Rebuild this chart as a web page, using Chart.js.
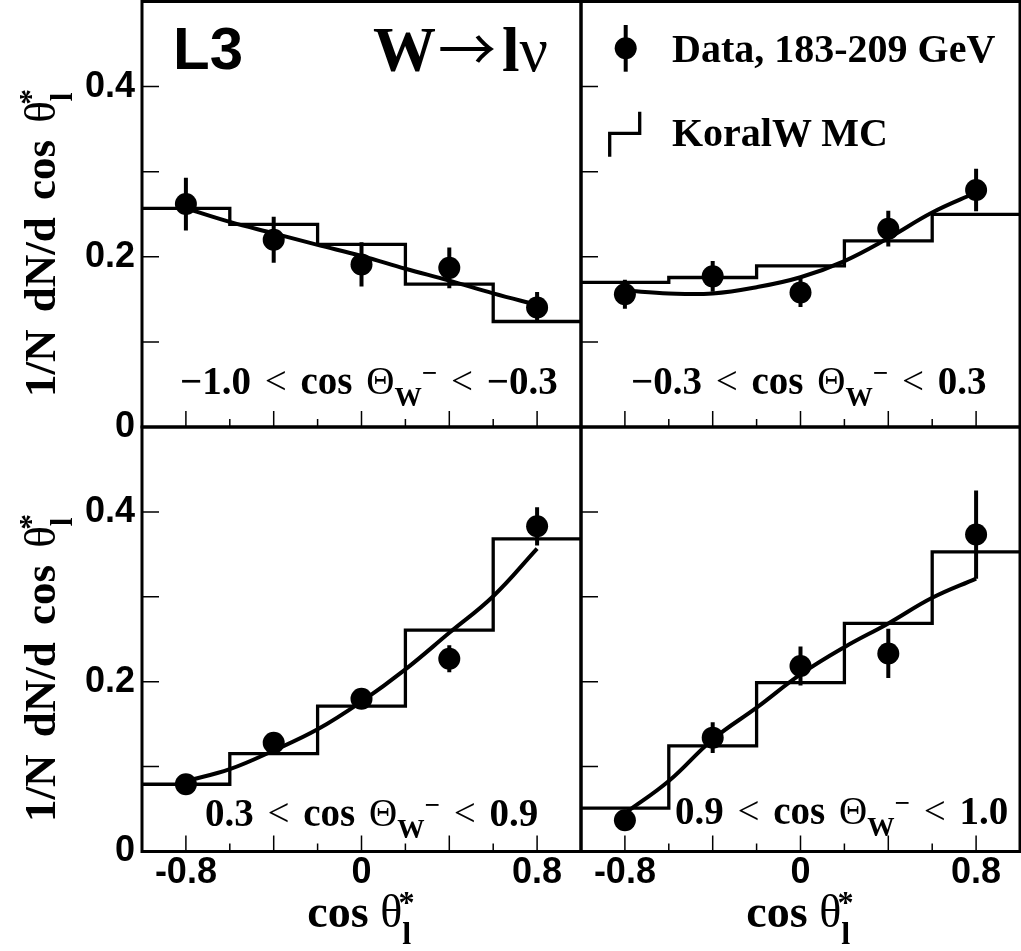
<!DOCTYPE html>
<html lang="en">
<head>
<meta charset="UTF-8">
<title>L3 W to l nu - cos theta* in bins of cos Theta_W</title>
<script src="https://cdn.jsdelivr.net/npm/chart.js@4"></script>
<style>
  html, body { margin: 0; padding: 0; background: #fff; }
  #page { position: relative; width: 1021px; height: 951px; overflow: hidden; }
  #page canvas { position: absolute; left: 0; top: 0; }
  .txt { position: absolute; white-space: nowrap; line-height: 1; color: #000; }
  .serif { font-family: "Liberation Serif", "Times New Roman", serif; font-weight: bold; }
  .sans { font-family: "Liberation Sans", Arial, sans-serif; font-weight: bold; }
  .nb { font-weight: normal; }
  .arrow { font-family: "Noto Sans CJK JP", "DejaVu Sans", sans-serif; font-weight: normal; font-size: 58px; margin: 0 6px 0 2px; }
  .sub { position: relative; top: 0.45em; font-size: 0.7em; }
  .sup { position: relative; top: -0.45em; font-size: 0.7em; }
  .s-sub { position: relative; top: 0.53em; font-size: 0.7em; }
  .s-sup { position: relative; top: -0.44em; font-size: 0.7em; margin-left: -0.39em; }
  .range { font-size: 39px; word-spacing: 4px; }
  .xtitle { font-size: 46px; transform: translateX(-50%); }
  .ytitle { font-size: 45px; word-spacing: 6px; transform-origin: 0 0; transform: rotate(-90deg); }
</style>
</head>
<body>
<div id="page">
  <canvas id="cTL" width="1021" height="951"></canvas>
  <canvas id="cTR" width="1021" height="951"></canvas>
  <canvas id="cBL" width="1021" height="951"></canvas>
  <canvas id="cBR" width="1021" height="951"></canvas>

  <!-- titles and labels -->
  <div class="txt sans" style="left:173px; top:19px; font-size:60px;">L3</div>
  <div class="txt serif" style="left:373px; top:17px; font-size:63px;">W<span class="arrow">→</span>l<span class="nb">ν</span></div>

  <svg class="txt" style="left:600px; top:20px;" width="60" height="145">
    <line x1="25.7" y1="5" x2="25.7" y2="51.7" stroke="#000" stroke-width="4"/>
    <circle cx="25.7" cy="28.3" r="11" fill="#000"/>
    <polyline points="9.7,136.7 9.7,113.3 39.7,113.3 39.7,91.7" fill="none" stroke="#000" stroke-width="3.3"/>
  </svg>
  <div class="txt serif" style="left:672px; top:29px; font-size:40px;">Data, 183-209 GeV</div>
  <div class="txt serif" style="left:672px; top:113px; font-size:40px;">KoralW MC</div>

  <div class="txt serif range" style="left:180px; top:361px;">−1.0 <span class="nb">&lt;</span> cos <span class="nb">Θ</span><span class="sub">W</span><span class="sup">−</span> <span class="nb">&lt;</span> −0.3</div>
  <div class="txt serif range" style="left:631px; top:361px;">−0.3 <span class="nb">&lt;</span> cos <span class="nb">Θ</span><span class="sub">W</span><span class="sup">−</span> <span class="nb">&lt;</span> 0.3</div>
  <div class="txt serif range" style="left:205px; top:793px;">0.3 <span class="nb">&lt;</span> cos <span class="nb">Θ</span><span class="sub">W</span><span class="sup">−</span> <span class="nb">&lt;</span> 0.9</div>
  <div class="txt serif range" style="left:675px; top:791px;">0.9 <span class="nb">&lt;</span> cos <span class="nb">Θ</span><span class="sub">W</span><span class="sup">−</span> <span class="nb">&lt;</span> 1.0</div>

  <div class="txt serif ytitle" style="left:18px; top:397px;">1/N dN/d cos <span class="nb">θ</span><span class="s-sub">l</span><span class="s-sup">*</span></div>
  <div class="txt serif ytitle" style="left:18px; top:822px;">1/N dN/d cos <span class="nb">θ</span><span class="s-sub">l</span><span class="s-sup">*</span></div>

  <div class="txt serif xtitle" style="left:361px; top:889px;">cos <span class="nb">θ</span><span class="s-sub">l</span><span class="s-sup">*</span></div>
  <div class="txt serif xtitle" style="left:800px; top:889px;">cos <span class="nb">θ</span><span class="s-sub">l</span><span class="s-sup">*</span></div>
</div>

<script>
// bins in cos theta*_l
const binEdges = [-1.0, -0.6, -0.2, 0.2, 0.6, 1.0];
const binCenters = [-0.8, -0.4, 0.0, 0.4, 0.8];
const fitX = [-0.8, -0.6, -0.4, -0.2, 0.0, 0.2, 0.4, 0.6, 0.8];

const xTickLabels = ['-0.8', '0', '0.8'];
const yTickLabels = ['0', '0.2', '0.4'];

// -1.0 < cos Theta_W < -0.3
const dataTL = [0.262, 0.220, 0.191, 0.187, 0.1405];
const errTL = [0.031, 0.027, 0.026, 0.024, 0.018];
const mcTL = [0.257, 0.238, 0.2146, 0.168, 0.124];
const fitTL = [0.257, 0.241, 0.2275, 0.214, 0.201, 0.186, 0.172, 0.157, 0.1435];

// -0.3 < cos Theta_W < 0.3
const dataTR = [0.156, 0.177, 0.158, 0.233, 0.2785];
const errTR = [0.017, 0.018, 0.017, 0.021, 0.025];
const mcTR = [0.170, 0.1757, 0.1894, 0.2188, 0.2499];
const fitTR = [0.1604, 0.157, 0.157, 0.1643, 0.176, 0.195, 0.222, 0.252, 0.2755];

// 0.3 < cos Theta_W < 0.9
const dataBL = [0.0792, 0.1282, 0.180, 0.227, 0.383];
const errBL = [0.008, 0.009, 0.010, 0.016, 0.0225];
const mcBL = [0.0792, 0.1153, 0.1713, 0.2607, 0.3682];
const fitBL = [0.083, 0.097, 0.119, 0.1439, 0.1766, 0.2145, 0.2576, 0.3007, 0.3568];

// 0.9 < cos Theta_W < 1.0
const dataBR = [0.0368, 0.1341, 0.2184, 0.2333, 0.3733];
const errBR = [0.008, 0.018, 0.023, 0.029, 0.052];
const mcBR = [0.051, 0.1243, 0.1988, 0.2686, 0.3529];
const fitBR = [0.045, 0.083, 0.132, 0.1694, 0.2086, 0.2407, 0.2686, 0.2988, 0.3215];

// frame + inward tick marks, like the ROOT pads
const padFrame = {
  id: 'padFrame',
  afterDraw(chart) {
    const { ctx, chartArea: a, scales } = chart;
    const x = scales.x, y = scales.y;
    ctx.save();
    ctx.strokeStyle = '#000';
    ctx.lineWidth = 1.5;
    ctx.beginPath();
    x.ticks.forEach(t => {
      if (Math.abs(t.value) > 0.95) return;
      const major = Math.round(Math.abs(t.value) / 0.2) % 2 === 0;
      const px = x.getPixelForValue(t.value);
      ctx.moveTo(px, a.bottom);
      ctx.lineTo(px, a.bottom - (major ? 16 : 8));
    });
    y.ticks.forEach(t => {
      if (t.value < 0.05 || t.value > 0.45) return;
      const py = y.getPixelForValue(t.value);
      ctx.moveTo(a.left, py);
      ctx.lineTo(a.left + 17, py);
    });
    ctx.stroke();
    ctx.lineWidth = 3;
    ctx.strokeRect(a.left, a.top, a.right - a.left, a.bottom - a.top);
    ctx.restore();
  }
};

function pickLabel(list, v) {
  const s = list.find(l => Math.abs(parseFloat(l) - v) < 1e-6);
  return s === undefined ? '' : s;
}

function makePanel(id, p) {
  const points = binCenters.map((c, i) => ({ x: c, y: p.data[i] }));
  const bars = [];
  binCenters.forEach((c, i) => {
    bars.push({ x: c, y: p.data[i] - p.err[i] }, { x: c, y: p.data[i] + p.err[i] }, { x: c, y: null });
  });
  // each bin value is held from its low edge to the next edge
  const hist = binEdges.map((e, i) => ({ x: e, y: p.mc[Math.min(i, p.mc.length - 1)] }));
  const fit = fitX.map((c, i) => ({ x: c, y: p.fit[i] }));

  return new Chart(document.getElementById(id), {
    type: 'scatter',
    data: {
      datasets: [
        { label: 'Data', data: points, pointRadius: 11, pointBackgroundColor: '#000', pointBorderWidth: 0, showLine: false },
        { type: 'line', label: 'err', data: bars, borderColor: '#000', borderWidth: 4, pointRadius: 0, spanGaps: false, tension: 0, fill: false },
        { type: 'line', label: 'KoralW MC', data: hist, stepped: 'before', borderColor: '#000', borderWidth: 3.3, borderJoinStyle: 'miter', pointRadius: 0, fill: false },
        { type: 'line', label: 'fit', data: fit, borderColor: '#000', borderWidth: 4, pointRadius: 0, tension: 0.4, fill: false }
      ]
    },
    options: {
      responsive: false,
      animation: false,
      events: [],
      layout: { padding: p.pad, autoPadding: false },
      plugins: { legend: { display: false }, tooltip: { enabled: false } },
      scales: {
        x: {
          type: 'linear', min: -1, max: 1,
          grid: { display: false, drawTicks: false },
          border: { display: false },
          ticks: {
            display: p.showX, stepSize: 0.2, autoSkip: false, maxRotation: 0, padding: 0,
            color: '#000', font: { family: 'Liberation Sans', size: 36, weight: 'bold' },
            callback: v => pickLabel(xTickLabels, v)
          },
          afterFit(s) { s.height = p.xh; s.paddingLeft = 0; s.paddingRight = 0; s.paddingTop = 0; s.paddingBottom = 0; }
        },
        y: {
          type: 'linear', min: 0, max: 0.5,
          grid: { display: false, drawTicks: false },
          border: { display: false },
          ticks: {
            display: p.showY, stepSize: 0.1, autoSkip: false, padding: 7,
            color: '#000', font: { family: 'Liberation Sans', size: 36, weight: 'bold' },
            callback: v => pickLabel(yTickLabels, v)
          },
          afterFit(s) { s.width = p.yw; s.paddingLeft = 0; s.paddingRight = 0; s.paddingTop = 0; s.paddingBottom = 0; }
        }
      }
    },
    plugins: [padFrame]
  });
}

makePanel('cTL', { data: dataTL, err: errTL, mc: mcTL, fit: fitTL, showX: false, showY: true,
  yw: 142, xh: 0, pad: { left: 0, top: 1.5, right: 440, bottom: 524 } });
makePanel('cTR', { data: dataTR, err: errTR, mc: mcTR, fit: fitTR, showX: false, showY: false,
  yw: 0, xh: 0, pad: { left: 581, top: 1.5, right: 1, bottom: 524 } });
makePanel('cBL', { data: dataBL, err: errBL, mc: mcBL, fit: fitBL, showX: true, showY: true,
  yw: 142, xh: 99.5, pad: { left: 0, top: 427, right: 440, bottom: 0 } });
makePanel('cBR', { data: dataBR, err: errBR, mc: mcBR, fit: fitBR, showX: true, showY: false,
  yw: 0, xh: 99.5, pad: { left: 581, top: 427, right: 1, bottom: 0 } });
</script>
</body>
</html>
